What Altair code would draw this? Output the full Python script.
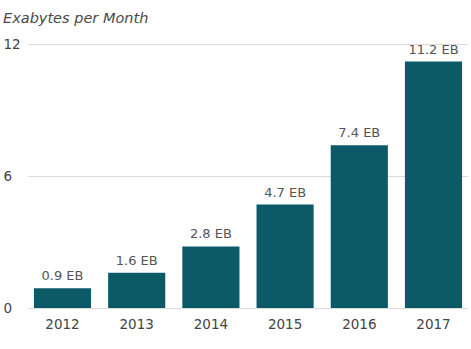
import altair as alt
import pandas as pd

# Monthly traffic volume, in exabytes
years = ["2012", "2013", "2014", "2015", "2016", "2017"]
exabytes = [0.9, 1.6, 2.8, 4.7, 7.4, 11.2]
labels = ["0.9 EB", "1.6 EB", "2.8 EB", "4.7 EB", "7.4 EB", "11.2 EB"]
y_ticks = [0, 6, 12]

df = pd.DataFrame({"year": years, "value": exabytes, "label": labels})

FONT = "DejaVu Sans"
BAR = "#0c5a68"
TEXT = "#555555"

x = alt.X(
    "year:N",
    sort=years,
    scale=alt.Scale(paddingInner=0.23, paddingOuter=0.08),
    axis=alt.Axis(
        title=None, labelAngle=0, tickSize=0, domain=False,
        labelPadding=9, labelFont=FONT, labelFontSize=13.5, labelColor="#444444",
    ),
)
y = alt.Y(
    "value:Q",
    scale=alt.Scale(domain=[0, 12], nice=False),
    axis=alt.Axis(
        title=None, values=y_ticks, tickSize=0, domain=False,
        labelAlign="left", labelPadding=25, labelFont=FONT, labelFontSize=13.5,
        labelColor="#444444", gridColor="#dadada", gridWidth=1,
    ),
)

bars = alt.Chart(df).mark_bar(color=BAR).encode(x=x, y=y)
text = alt.Chart(df).mark_text(
    baseline="bottom", dy=-5, font=FONT, fontSize=13, color=TEXT
).encode(x=x, y=y, text="label:N")

chart = (
    (bars + text)
    .properties(
        width=440,
        height=264,
        autosize=alt.AutoSizeParams(type="none"),
        padding={"left": 28, "top": 44, "right": 3, "bottom": 41},
        title=alt.TitleParams(
            "Exabytes per Month", anchor="start", offset=11,
            font=FONT, fontSize=14.5, fontStyle="italic", fontWeight="normal",
            color="#4a4a4a",
        ),
    )
    .configure_view(stroke=None)
)

chart.save("out.html", embed_options={"renderer": "svg", "actions": False})
